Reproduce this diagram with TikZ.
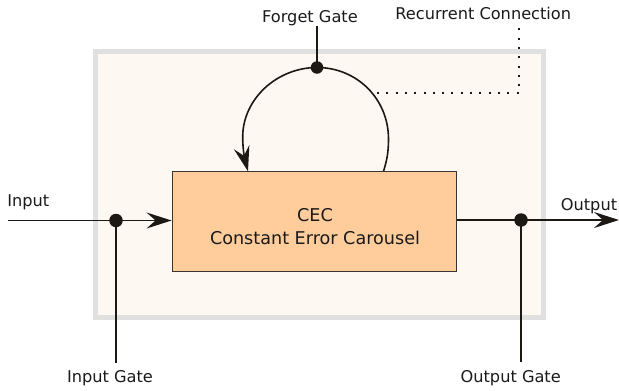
\documentclass[tikz,border=0pt]{standalone}
\usepackage{fontspec}
\setmainfont{DejaVu Sans}
\usetikzlibrary{arrows.meta}
\definecolor{lineC}{HTML}{1C1915}
\definecolor{frameC}{HTML}{E0E0E0}
\definecolor{bgC}{HTML}{FDF8F1}
\definecolor{cecC}{HTML}{FFCD9C}
\definecolor{cecB}{HTML}{3A3530}
\definecolor{textC}{HTML}{1A1A1A}
\begin{document}
\begin{tikzpicture}[x=1pt,y=-1pt,
  wire/.style={draw=lineC, line width=1.6pt},
  gdot/.style={circle, fill=lineC, inner sep=0pt, minimum size=13.5pt},
  lbl/.style={text=textC, font=\fontsize{16.2}{19}\selectfont, inner sep=0pt, anchor=base},
  cectxt/.style={text=textC, font=\fontsize{17.6}{22}\selectfont, inner sep=0pt, anchor=base},
  tipA/.style={-{Stealth[length=25pt,width=16pt,inset=9pt]}},
  dotline/.style={draw=lineC, line width=1.6pt, dash pattern=on 2pt off 7.3pt}]
\useasboundingbox (0,0) rectangle (619,391);
% frame
\node[draw=frameC, line width=5pt, fill=bgC, minimum width=448pt, minimum height=266pt,
      inner sep=0pt, anchor=north west] (frame) at (92.5,48.5) {};
% CEC box
\node[draw=cecB, line width=1pt, fill=cecC, minimum width=284.5pt, minimum height=100.5pt,
      inner sep=0pt] (cec) at (314.3,221.5) {};
\node[cectxt] (cecTitle) at (315,221.7) {CEC};
\node[cectxt] (cecSub) at (315,244.3) {Constant Error Carousel};
% coordinates
\coordinate (inStart) at (8,220.5);
\coordinate (indot) at (116,220.5);
\coordinate (outdot) at (521,220);
\coordinate (outEnd) at (619,220);
\coordinate (fgdot) at (317,67.5);
\coordinate (fgTop) at (317,26);
\coordinate (inGateEnd) at (116,363);
\coordinate (outGateEnd) at (521,362);
\coordinate (loopR) at (383.5,171.3);
\coordinate (loopL) at (248,171.3);
\coordinate (rc1) at (377,93);
\coordinate (rc2) at (519,93);
\coordinate (rc3) at (519,27);
% wires
\draw[wire] (inStart) -- (indot);
\draw[wire, tipA] (indot) -- (cec.west |- indot);
\draw[wire] (indot) -- (inGateEnd);
\draw[wire] (cec.east |- outdot) -- (outdot);
\draw[wire, tipA] (outdot) -- (outEnd);
\draw[wire] (outdot) -- (outGateEnd);
\draw[wire] (fgdot) -- (fgTop);
\draw[wire, tipA] (loopR) .. controls (387,160) and (388.5,152) .. (388.5,139)
   .. controls (388.5,99) and (357,67.5) .. (fgdot)
   .. controls (277,67.5) and (242.7,99) .. (242.7,137)
   .. controls (242.7,150) and (245,160) .. (loopL);
\draw[dotline] (rc1) -- (rc2) -- (rc3);
% dots
\node[gdot] (inD) at (indot) {};
\node[gdot] (outD) at (outdot) {};
\node[gdot, minimum size=12.5pt] (fgD) at (fgdot) {};
% labels
\node[lbl] (inLbl) at (28.3,206.7) {Input};
\node[lbl] (outLbl) at (589,210) {Output};
\node[lbl] (fgLbl) at (310,22.7) {Forget Gate};
\node[lbl] (rcLbl) at (483.3,19.3) {Recurrent Connection};
\node[lbl] (igLbl) at (110,382.3) {Input Gate};
\node[lbl] (ogLbl) at (510.7,382.3) {Output Gate};
\end{tikzpicture}
\end{document}
